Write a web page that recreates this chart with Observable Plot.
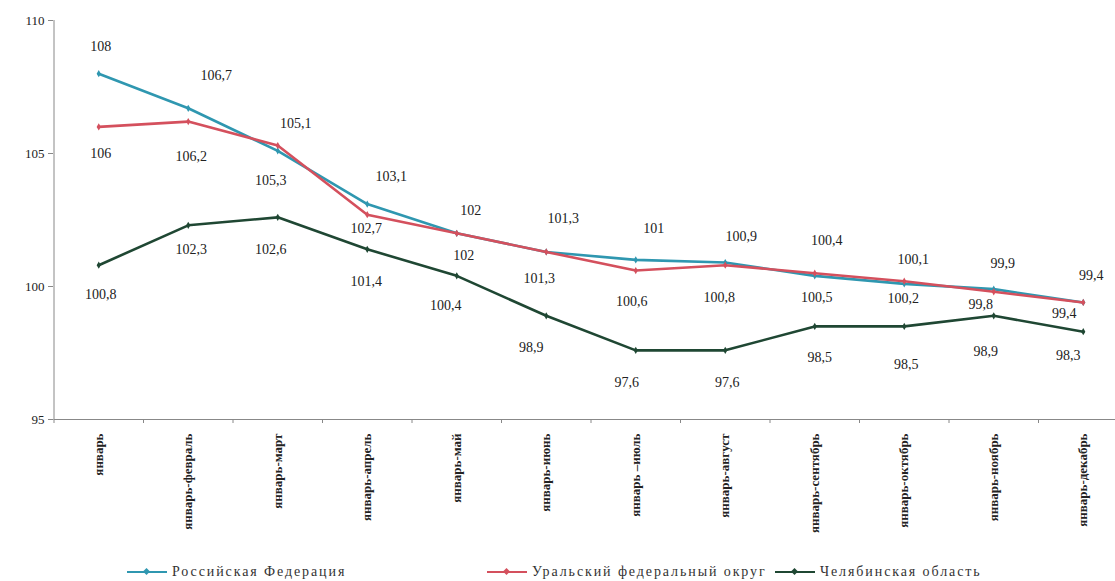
<!DOCTYPE html>
<html>
<head>
<meta charset="utf-8">
<script src="https://cdn.jsdelivr.net/npm/d3@7"></script>
<script src="https://cdn.jsdelivr.net/npm/@observablehq/plot@0.6"></script>
<style>
  html, body { margin: 0; padding: 0; background: #fff; overflow: hidden; }
  #wrap { position: relative; width: 1115px; height: 581px; }
  #legend { position: absolute; top: 563px; left: 0; width: 1115px; height: 18px;
    font-family: "Liberation Serif", "DejaVu Serif", serif; font-size: 14px; letter-spacing: 1.9px; color: #333; }
  .item { position: absolute; top: 0; display: flex; align-items: center; height: 18px; }
  .sw { position: relative; width: 40px; height: 2px; margin-right: 5px; }
  .sw::after { content: ""; position: absolute; left: 17px; top: -2px; width: 5px; height: 5px; transform: rotate(45deg); background: inherit; }
  svg text { font-family: "Liberation Serif", "DejaVu Serif", serif; }
</style>
</head>
<body>
<div id="wrap"><div id="chart"></div><div id="legend"></div></div>
<script>
const months = ["январь", "январь-февраль", "январь-март", "январь-апрель", "январь-май", "январь-июнь",
  "январь –июль", "январь-август", "январь-сентябрь", "январь-октябрь", "январь-ноябрь", "январь-декабрь"];
const seriesNames = ["Российская Федерация", "Уральский федеральный округ", "Челябинская область"];
const rf    = [108, 106.7, 105.1, 103.1, 102, 101.3, 101, 100.9, 100.4, 100.1, 99.9, 99.4];
const ural  = [106, 106.2, 105.3, 102.7, 102, 101.3, 100.6, 100.8, 100.5, 100.2, 99.8, 99.4];
const chel  = [100.8, 102.3, 102.6, 101.4, 100.4, 98.9, 97.6, 97.6, 98.5, 98.5, 98.9, 98.3];
const yTicks = [95, 100, 105, 110];

// label nudges (layout only)
const nudge = [
  {dx: [2, 28, 18, 24, 14, 17, 18, 16, 12, 9, 9, 8], dy: [-27, -33, -27, -28, -23, -33, -31, -26, -35, -24, -26, -27]},
  {dx: [2, 3, -7, -1, 7, -7, -4, -6, 2, -1, -13, -19], dy: [27, 35, 35, 14, 22, 27, 31, 32, 24, 17, 13, 11]},
  {dx: [2, 3, -7, -1, -11, -15, -9, 2, 5, 2, -8, -15], dy: [29, 24, 32, 32, 30, 32, 32, 32, 31, 38, 36, 24]}
];
const colors = ["#2f97b0", "#d4505d", "#1f4733"];
const values = [rf, ural, chel];

const rows = [];
values.forEach((arr, s) => arr.forEach((v, i) => rows.push({s, i, v, label: String(v).replace(".", ",")})));

const serif = "Liberation Serif";
const marks = [
  Plot.ruleY([95], {x1: -0.5, x2: 11.5, stroke: "#888", strokeWidth: 1}),
  Plot.ruleX([-0.5], {y1: 95, y2: 110, stroke: "#888", strokeWidth: 1}),
  Plot.axisY({ticks: yTicks, tickSize: 5, tickPadding: 4, stroke: "#888", fill: "#222", label: null,
    fontSize: 13, fontFamily: serif, tickFormat: d => String(d)}),
  Plot.axisX({ticks: d3.range(-0.5, 12, 1), tickSize: 4, tickFormat: () => "", stroke: "#888", label: null}),
  Plot.axisX({ticks: d3.range(0, 12), tickSize: 0, tickPadding: 14, tickRotate: -90, tickFormat: i => months[i],
    fontSize: 13, fontWeight: "bold", fontFamily: serif, fill: "#222", label: null})
];
values.forEach((arr, s) => {
  const d = rows.filter(r => r.s === s);
  marks.push(Plot.line(d, {x: "i", y: "v", stroke: colors[s], strokeWidth: 2.6}));
  marks.push(Plot.dot(d, {x: "i", y: "v", fill: colors[s], r: 2.2, symbol: "diamond"}));
});
values.forEach((arr, s) => {
  rows.filter(r => r.s === s).forEach(r => {
    marks.push(Plot.text([r], {x: "i", y: "v", text: "label", dx: nudge[s].dx[r.i], dy: nudge[s].dy[r.i],
      fill: "#222", fontSize: 14, fontFamily: serif}));
  });
});

const chart = Plot.plot({
  width: 1115, height: 560,
  marginTop: 20, marginBottom: 141, marginLeft: 53, marginRight: 0,
  x: {type: "linear", domain: [-0.5, 11.5], range: [53.5, 1127.5], axis: null},
  y: {domain: [95, 110], axis: null},
  style: {background: "#fff", overflow: "hidden", fontFamily: serif},
  marks
});
document.getElementById("chart").appendChild(chart);

const legend = document.getElementById("legend");
const lefts = [127, 487, 775];
seriesNames.forEach((n, s) => {
  const it = document.createElement("div");
  it.className = "item";
  it.style.left = lefts[s] + "px";
  const sw = document.createElement("div");
  sw.className = "sw";
  sw.style.background = colors[s];
  const t = document.createElement("span");
  t.textContent = n;
  it.appendChild(sw); it.appendChild(t);
  legend.appendChild(it);
});
</script>
</body>
</html>
